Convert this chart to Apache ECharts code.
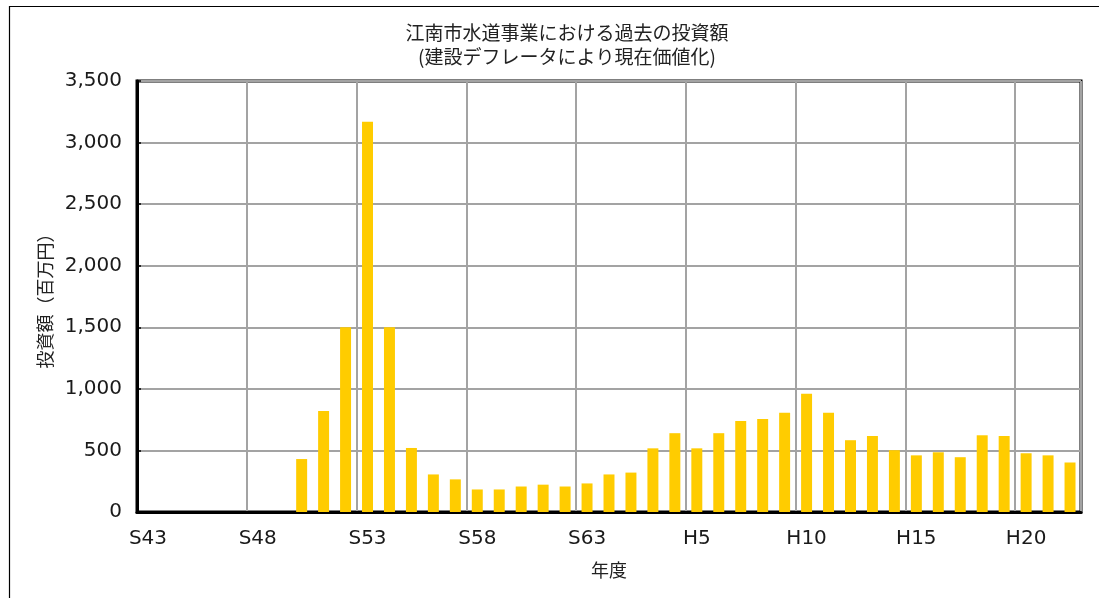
<!DOCTYPE html>
<html>
<head>
<meta charset="utf-8">
<script src="https://cdn.jsdelivr.net/npm/echarts@6/dist/echarts.min.js"></script>
<style>
  html, body { margin: 0; padding: 0; background: #fff; }
  #chart { width: 1099px; height: 598px; }
</style>
</head>
<body>
<div id="chart"></div>
<script>
// Fiscal years: Showa 43–63, then Heisei 1–22
const showaYears = [43,44,45,46,47,48,49,50,51,52,53,54,55,56,57,58,59,60,61,62,63];
const heiseiYears = [1,2,3,4,5,6,7,8,9,10,11,12,13,14,15,16,17,18,19,20,21,22];
const categories = showaYears.map(y => 'S' + y).concat(heiseiYears.map(y => 'H' + y));

// Investment (million yen), deflated to present value
const investShowa = [0, 0, 0, 0, 0, 0, 0, 430, 820, 1500, 3170, 1500, 520, 305, 265, 183, 183, 207, 222, 207, 232];
const investHeisei = [305, 320, 517, 640, 517, 640, 738, 755, 805, 960, 805, 583, 617, 502, 460, 485, 445, 623, 617, 477, 460, 402];
const investment = investShowa.concat(investHeisei);

const titleLines = ['江南市水道事業における過去の投資額', '(建設デフレータにより現在価値化)'];
const yAxisName = '投資額（百万円）';
const xAxisName = '年度';

const yMin = 0, yMax = 3500, yStep = 500;

const latinFont = '"DejaVu Sans", sans-serif';
const jpFont = '"Noto Sans CJK JP", sans-serif';

const chart = echarts.init(document.getElementById('chart'), null, { renderer: 'canvas' });

chart.setOption({
  animation: false,
  backgroundColor: '#ffffff',
  title: {
    text: titleLines.join('\n'),
    left: 562,
    textAlign: 'center',
    top: 16,
    textStyle: {
      fontFamily: jpFont,
      fontSize: 19,
      fontWeight: 'normal',
      color: '#222',
      lineHeight: 24
    }
  },
  graphic: [{
    type: 'rect',
    silent: true,
    shape: { x: 9.5, y: 6.5, width: 1200, height: 700 },
    style: { fill: 'none', stroke: '#000', lineWidth: 1.2 }
  }],
  grid: {
    left: 137,
    right: 18,
    top: 81,
    bottom: 86,
    show: true,
    borderColor: '#000',
    borderWidth: 3,
    containLabel: false
  },
  xAxis: {
    type: 'category',
    data: categories,
    name: xAxisName,
    nameLocation: 'middle',
    nameGap: 49,
    nameTextStyle: { fontFamily: jpFont, fontSize: 18, color: '#222' },
    axisLine: { show: true, lineStyle: { color: '#000', width: 3 } },
    axisTick: { show: false },
    axisLabel: {
      interval: 4,
      margin: 17,
      fontFamily: latinFont,
      fontSize: 20,
      color: '#1a1a1a'
    },
    splitLine: {
      show: true,
      interval: 4,
      lineStyle: { color: '#a3a3a3', width: 2 }
    }
  },
  yAxis: {
    type: 'value',
    min: yMin,
    max: yMax,
    interval: yStep,
    name: yAxisName,
    nameLocation: 'middle',
    nameRotate: 90,
    nameGap: 80,
    nameTextStyle: { fontFamily: jpFont, fontSize: 18, color: '#222' },
    axisLine: { show: true, lineStyle: { color: '#000', width: 3 } },
    axisTick: { show: true, inside: true, length: 4, lineStyle: { color: '#000', width: 1.5 } },
    axisLabel: {
      margin: 15,
      fontFamily: latinFont,
      fontSize: 20,
      color: '#1a1a1a',
      formatter: v => v.toLocaleString('en-US')
    },
    splitLine: {
      show: true,
      lineStyle: { color: '#a3a3a3', width: 2 }
    }
  },
  series: [{
    type: 'bar',
    data: investment,
    barWidth: '50%',
    itemStyle: { color: '#FFCC00' }
  }]
});
</script>
</body>
</html>
